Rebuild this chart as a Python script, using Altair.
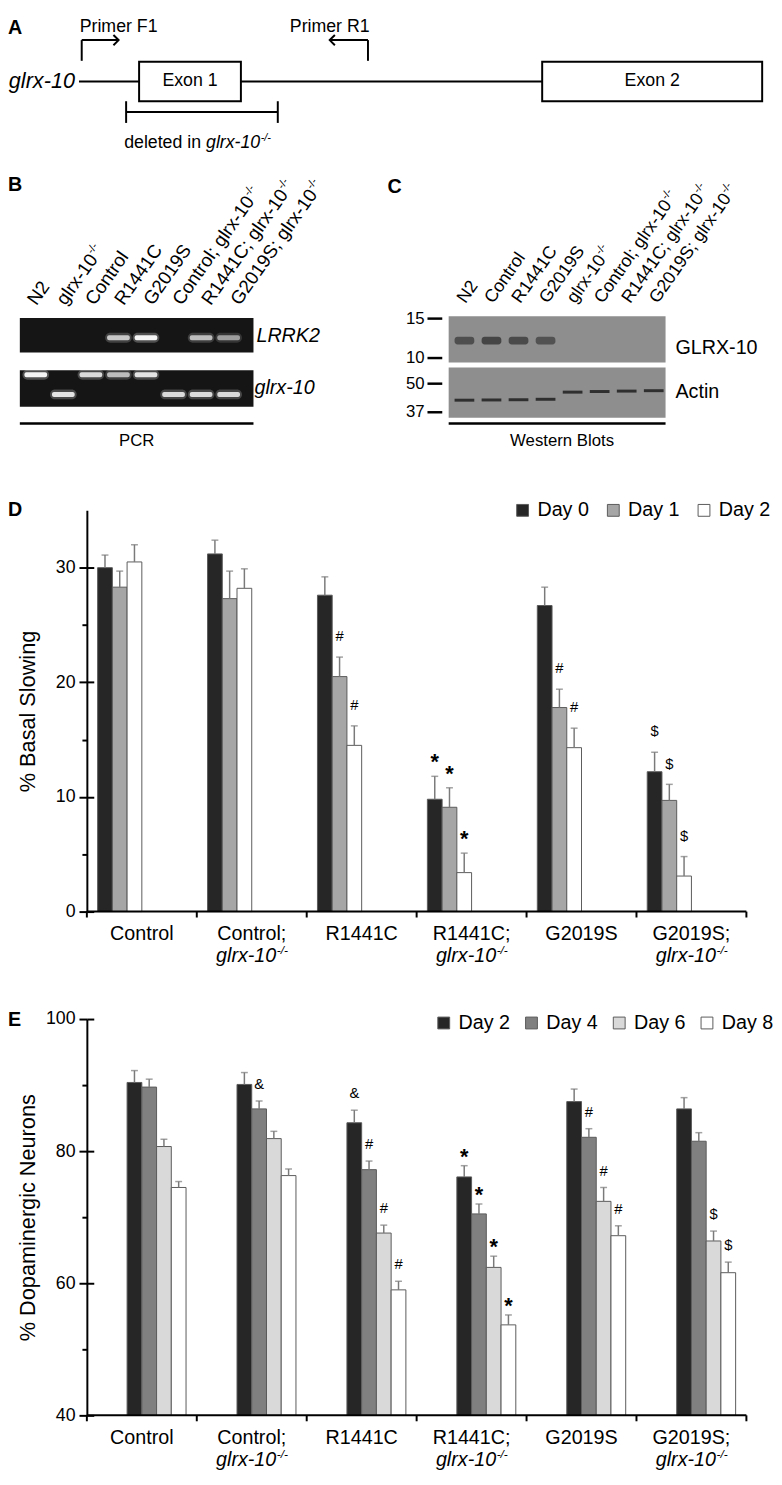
import math
import altair as alt
import pandas as pd

FONT = "Liberation Sans"

# ------------------------------------------------------------------ data
GENOTYPES = ["Control", "Control; glrx-10-/-", "R1441C", "R1441C; glrx-10-/-",
             "G2019S", "G2019S; glrx-10-/-"]

# D: % basal slowing
D_DAYS = ["Day 0", "Day 1", "Day 2"]
D_COLORS = ["#262626", "#a6a6a6", "#ffffff"]
D_MEAN = {
    "Day 0": [30.0, 31.2, 27.6, 9.8, 26.7, 12.2],
    "Day 1": [28.3, 27.3, 20.5, 9.1, 17.8, 9.7],
    "Day 2": [30.5, 28.2, 14.5, 3.4, 14.3, 3.1],
}
D_SEM = {
    "Day 0": [1.1, 1.2, 1.6, 2.0, 1.6, 1.7],
    "Day 1": [1.4, 2.4, 1.7, 1.7, 1.6, 1.4],
    "Day 2": [1.5, 1.7, 1.7, 1.7, 1.7, 1.7],
}
D_SIG = {
    "Day 0": ["", "", "", "*", "", "$"],
    "Day 1": ["", "", "#", "*", "#", "$"],
    "Day 2": ["", "", "#", "*", "#", "$"],
}

# E: % dopaminergic neurons
E_DAYS = ["Day 2", "Day 4", "Day 6", "Day 8"]
E_COLORS = ["#262626", "#808080", "#d9d9d9", "#ffffff"]
E_MEAN = {
    "Day 2": [90.4, 90.1, 84.3, 76.1, 87.5, 86.4],
    "Day 4": [89.7, 86.4, 77.2, 70.5, 82.1, 81.5],
    "Day 6": [80.7, 81.9, 67.6, 62.4, 72.4, 66.4],
    "Day 8": [74.5, 76.3, 59.0, 53.7, 67.2, 61.6],
}
E_SEM = {
    "Day 2": [1.8, 1.8, 1.9, 1.7, 1.9, 1.7],
    "Day 4": [1.2, 1.2, 1.3, 1.5, 1.3, 1.3],
    "Day 6": [1.1, 1.1, 1.2, 1.7, 2.1, 1.5],
    "Day 8": [0.9, 1.0, 1.3, 1.5, 1.5, 1.6],
}
E_SIG = {
    "Day 2": ["", "", "&", "*", "", ""],
    "Day 4": ["", "&", "#", "*", "#", ""],
    "Day 6": ["", "", "#", "*", "#", "$"],
    "Day 8": ["", "", "#", "*", "#", "$"],
}

# A: gene model (gene coordinate units)
GENE_SPAN = [0, 1000]
EXON_NAMES = ["Exon 1", "Exon 2"]
EXON_START = [88, 678]
EXON_END = [237, 1000]
PRIMER_NAMES = ["Primer F1", "Primer R1"]
PRIMER_SITE = [4, 423]
PRIMER_TIP = [58, 367]
PRIMER_DIR = ["forward", "reverse"]
DELETION = [69, 291]

# B: PCR gel (band intensity per lane, relative migration in gel)
B_LANES = ["N2", "glrx-10-/-", "Control", "R1441C", "G2019S",
           "Control; glrx-10-/-", "R1441C; glrx-10-/-", "G2019S; glrx-10-/-"]
B_LRRK2 = [0.0, 0.0, 0.0, 0.75, 1.0, 0.0, 0.7, 0.55]
B_GLRX_WT = [1.0, 0.0, 0.85, 0.7, 0.9, 0.0, 0.0, 0.0]
B_GLRX_DEL = [0.0, 0.9, 0.0, 0.0, 0.0, 0.85, 0.85, 0.85]
B_MIGRATION = {"LRRK2": 0.57, "glrx-10 wild type": 0.12, "glrx-10 deletion": 0.66}

# C: western blots
C_LANES = ["N2", "Control", "R1441C", "G2019S", "glrx-10-/-",
           "Control; glrx-10-/-", "R1441C; glrx-10-/-", "G2019S; glrx-10-/-"]
C_GLRX10 = [0.7, 0.8, 0.75, 0.65, 0.0, 0.0, 0.0, 0.0]
C_GLRX10_KDA = 11.9
C_ACTIN = [0.85, 0.85, 0.85, 0.85, 0.85, 0.85, 0.85, 0.85]
C_ACTIN_KDA = [41.8, 41.9, 42.0, 42.2, 45.5, 45.8, 46.0, 46.2]
C_GLRX_MARKERS = [15, 10]
C_ACTIN_MARKERS = [50, 37]

# ------------------------------------------------------------------ helpers
ADV = {' ': 278, ';': 278, '-': 333, '/': 278, 'C': 722, 'G': 778, 'N': 722,
       'R': 722, 'S': 667, 'o': 556, 'n': 556, 't': 278, 'r': 333, 'l': 222,
       'g': 556, 'x': 500, 'd': 556, 'e': 556, 'i': 222}


def tw(s, size):
    return sum(ADV.get(c, 556) for c in s) * size / 1000.0


def one_row():
    return pd.DataFrame({"k": [0]})


def box(x, x2, y, y2, **mark):
    return alt.Chart(one_row()).mark_rect(**mark).encode(
        x=alt.value(x), x2=alt.value(x2), y=alt.value(y), y2=alt.value(y2))


def label(text, x, y, **mark):
    return alt.Chart(one_row()).mark_text(**mark).encode(
        x=alt.value(x), y=alt.value(y), text=alt.value(text))


def hline(x, x2, y, **mark):
    return alt.Chart(one_row()).mark_rule(**mark).encode(
        x=alt.value(x), x2=alt.value(x2), y=alt.value(y))


def letter(t, x, y):
    return label(t, x, y, fontSize=20, fontWeight="bold", align="left",
                 baseline="alphabetic", font=FONT)


ANGLE = 305


def lane_labels(lanes, xrange, y, size):
    """Rotated lane captions, anchored on a point scale of their own."""
    scale = alt.Scale(type="point", domain=lanes, range=xrange, padding=0)
    df = pd.DataFrame({"lane": lanes})
    xenc = alt.X("lane:N", scale=scale, axis=None)
    out = [alt.Chart(df).transform_calculate(main="replace(datum.lane, '-/-', '')")
           .mark_text(fontSize=size, angle=ANGLE, align="left", baseline="alphabetic",
                      font=FONT)
           .encode(x=xenc, y=alt.value(y), text="main:N")]
    for lane in lanes:
        if lane.endswith("-/-"):
            w = tw(lane[:-3], size)
            out.append(alt.Chart(df).transform_filter(alt.datum.lane == lane)
                       .mark_text(fontSize=round(size * 0.6), angle=ANGLE, align="left",
                                  baseline="alphabetic", dx=w + 0.5,
                                  dy=-0.42 * size, font=FONT)
                       .encode(x=xenc, y=alt.value(y), text=alt.value("-/-")))
    return out


# ------------------------------------------------------------------ panel A
def panel_a():
    xa = alt.Scale(domain=GENE_SPAN, range=[72, 765])
    gene_df = pd.DataFrame({"start": [GENE_SPAN[0]], "end": [EXON_START[1]]})
    exon_df = pd.DataFrame({"exon": EXON_NAMES, "start": EXON_START, "end": EXON_END})
    primer_df = pd.DataFrame({"primer": PRIMER_NAMES, "site": PRIMER_SITE,
                              "tip": PRIMER_TIP, "dir": PRIMER_DIR})
    del_df = pd.DataFrame({"start": [DELETION[0]], "end": [DELETION[1]]})

    def X(f):
        return alt.X(f, type="quantitative", scale=xa, axis=None)

    layers = [
        alt.Chart(gene_df).mark_rule(color="black", strokeWidth=2).encode(
            x=X("start"), x2="end:Q", y=alt.value(64)),
        alt.Chart(exon_df).mark_rect(fill="white", stroke="black", strokeWidth=2).encode(
            x=X("start"), x2="end:Q", y=alt.value(44), y2=alt.value(84)),
        alt.Chart(exon_df).transform_calculate(mid="(datum.start + datum.end) / 2")
        .mark_text(fontSize=18, baseline="middle", font=FONT).encode(
            x=X("mid"), y=alt.value(64), text="exon:N"),
        alt.Chart(gene_df).mark_text(fontSize=22, fontStyle="italic", align="right",
                                     baseline="middle", dx=-4, font=FONT).encode(
            x=X("start"), y=alt.value(64), text=alt.value("glrx-10")),
        alt.Chart(primer_df).mark_rule(color="black", strokeWidth=2).encode(
            x=X("site"), y=alt.value(43), y2=alt.value(22)),
        alt.Chart(primer_df).mark_rule(color="black", strokeWidth=2).encode(
            x=X("site"), x2="tip:Q", y=alt.value(22)),
        alt.Chart(primer_df).mark_point(filled=False, color="black", strokeWidth=2,
                                        size=110, opacity=1).encode(
            x=X("tip"), y=alt.value(22),
            shape=alt.Shape("dir:N", scale=alt.Scale(
                domain=PRIMER_DIR, range=["M-1,-1L0,0L-1,1", "M1,-1L0,0L1,1"]),
                legend=None)),
        alt.Chart(primer_df).mark_text(fontSize=18, align="center", baseline="alphabetic",
                                       font=FONT).encode(
            x=X("tip"), y=alt.value(14), text="primer:N"),
        alt.Chart(del_df).mark_rule(color="black", strokeWidth=2).encode(
            x=X("start"), x2="end:Q", y=alt.value(95)),
        alt.Chart(del_df).transform_fold(["start", "end"], as_=["side", "pos"])
        .mark_rule(color="black", strokeWidth=2).encode(
            x=X("pos"), y=alt.value(84), y2=alt.value(106)),
    ]
    w1 = tw("deleted in ", 18)
    w2 = tw("glrx-10", 18)
    layers += [
        alt.Chart(del_df).mark_text(fontSize=18, align="left", baseline="alphabetic",
                                    dx=-2, font=FONT).encode(
            x=X("start"), y=alt.value(131), text=alt.value("deleted in")),
        alt.Chart(del_df).mark_text(fontSize=18, fontStyle="italic", align="left",
                                    baseline="alphabetic", dx=-2 + w1, font=FONT).encode(
            x=X("start"), y=alt.value(131), text=alt.value("glrx-10")),
        alt.Chart(del_df).mark_text(fontSize=11, fontStyle="italic", align="left",
                                    baseline="alphabetic", dx=-1.5 + w1 + w2, font=FONT).encode(
            x=X("start"), y=alt.value(124), text=alt.value("-/-")),
        letter("A", 0, 16),
    ]
    return alt.layer(*layers).properties(width=766, height=150)


# ------------------------------------------------------------------ panels B + C (one row)
def panel_bc():
    # ---- B: PCR gel
    xb = alt.Scale(domain=B_LANES, range=[16.3, 235.7], paddingInner=0.15, paddingOuter=0)
    rows = []
    for i, lane in enumerate(B_LANES):
        rows.append(dict(lane=lane, gel="LRRK2", migration=B_MIGRATION["LRRK2"],
                         intensity=B_LRRK2[i]))
        rows.append(dict(lane=lane, gel="glrx-10", migration=B_MIGRATION["glrx-10 wild type"],
                         intensity=B_GLRX_WT[i]))
        rows.append(dict(lane=lane, gel="glrx-10", migration=B_MIGRATION["glrx-10 deletion"],
                         intensity=B_GLRX_DEL[i]))
    df = pd.DataFrame(rows)
    layers = [letter("B", 0, 25),
              box(12, 249, 154, 189, fill="#151515"),
              box(12, 249, 207, 244, fill="#151515")]
    for gel, rng in (("LRRK2", [154, 189]), ("glrx-10", [207, 244])):
        ys = alt.Scale(domain=[0, 1], range=rng)
        base = (alt.Chart(df)
                .transform_filter(f"datum.gel === '{gel}' && datum.intensity > 0")
                .transform_calculate(glow="datum.intensity * 0.25"))
        enc = dict(x=alt.X("lane:N", scale=xb, axis=None),
                   y=alt.Y("migration:Q", scale=ys, axis=None))
        layers.append(base.mark_tick(color="white", thickness=10, size=27, cornerRadius=5)
                      .encode(opacity=alt.Opacity("glow:Q", scale=None), **enc))
        layers.append(base.mark_tick(color="#f4f4f4", thickness=5, size=23, cornerRadius=2)
                      .encode(opacity=alt.Opacity("intensity:Q", scale=None), **enc))
    layers += lane_labels(B_LANES, [29, 235], 142, 19)
    layers += [
        label("LRRK2", 252, 172, fontSize=20, fontStyle="italic", align="left",
              baseline="middle", font=FONT),
        label("glrx-10", 250, 225, fontSize=20, fontStyle="italic", align="left",
              baseline="middle", font=FONT),
        hline(12, 249, 261, color="black", strokeWidth=2.5),
        label("PCR", 130.5, 279, fontSize=17, align="center", baseline="middle", font=FONT),
    ]

    # ---- C: western blots (right half of the row)
    ox = 383
    xc = alt.Scale(domain=C_LANES, range=[69.7 + ox, 282.3 + ox], paddingInner=0.25,
                   paddingOuter=0)
    glrx_df = pd.DataFrame({"lane": C_LANES, "kda": [C_GLRX10_KDA] * len(C_LANES),
                            "signal": C_GLRX10})
    actin_df = pd.DataFrame({"lane": C_LANES, "kda": C_ACTIN_KDA, "signal": C_ACTIN})

    def mw_axis(vals):
        return alt.Axis(orient="left", offset=-(57 + ox), values=vals, tickSize=15,
                        tickWidth=2.5, tickColor="black", domain=False, labelFontSize=17,
                        labelPadding=3, labelExpr="datum.value + ''", title=None, grid=False)

    xenc = alt.X("lane:N", scale=xc, axis=None)
    layers += [
        letter("C", 2 + ox, 27),
        box(64 + ox, 284 + ox, 152, 199, fill="#8e8e8e"),
        box(64 + ox, 284 + ox, 204, 255, fill="#8e8e8e"),
        alt.Chart(glrx_df).mark_tick(color="#333333", thickness=8, size=20, cornerRadius=3)
        .encode(x=xenc,
                y=alt.Y("kda:Q", scale=alt.Scale(type="log", domain=[10, 15], range=[194, 154]),
                        axis=mw_axis(C_GLRX_MARKERS)),
                opacity=alt.Opacity("signal:Q", scale=None)),
        alt.Chart(actin_df).mark_tick(color="#1e1e1e", thickness=3, size=20)
        .encode(x=xenc,
                y=alt.Y("kda:Q", scale=alt.Scale(type="log", domain=[37, 50], range=[249, 220]),
                        axis=mw_axis(C_ACTIN_MARKERS)),
                opacity=alt.Opacity("signal:Q", scale=None)),
    ]
    layers += lane_labels(C_LANES, [464, 659], 140, 18)
    layers += [
        label("GLRX-10", 294 + ox, 184, fontSize=20, align="left", baseline="middle", font=FONT),
        label("Actin", 294 + ox, 229, fontSize=20, align="left", baseline="middle", font=FONT),
        hline(64 + ox, 284 + ox, 261, color="black", strokeWidth=2.5),
        label("Western Blots", 179 + ox, 279, fontSize=17, align="center", baseline="middle",
              font=FONT),
    ]
    return (alt.layer(*layers)
            .resolve_scale(x="independent", y="independent")
            .resolve_axis(x="independent", y="independent")
            .properties(width=766, height=290))


# ------------------------------------------------------------------ panels D / E
def bar_panel(let, let_y, days, colors, mean, sem, sig, ydom, yrange, yvals, major, title,
              row_h, legend_x, legend_y, legend_pad, pad_outer, dy_sym, dy_star):
    rows = []
    for d in days:
        for i, g in enumerate(GENOTYPES):
            rows.append({"genotype": g, "day": d, "mean": mean[d][i], "sem": sem[d][i],
                         "sig": sig[d][i]})
    df = pd.DataFrame(rows)
    base = alt.Chart(df).transform_calculate(top="datum.mean + datum.sem")

    xs = alt.Scale(domain=GENOTYPES, range=[80, 749], paddingInner=0, paddingOuter=0)
    xo = alt.Scale(domain=days, paddingInner=0, paddingOuter=pad_outer)
    ys = alt.Scale(domain=ydom, range=yrange, nice=False, zero=False)
    ax_y = yrange[0]

    y_axis = alt.Axis(orient="left", offset=-80, values=yvals,
                      labelExpr=f"datum.value % {major} === 0 ? datum.label : ''",
                      tickSize={"condition": {"test": f"datum.value % {major} === 0", "value": 8},
                                "value": 5},
                      tickWidth=2, domainWidth=2, labelFontSize=18, labelPadding=4,
                      labelOverlap=False, title=title, titleFontSize=22,
                      titleFontWeight="normal", titleX=-60,
                      titleY=(yrange[0] + yrange[1]) / 2, titleAngle=270,
                      titleBaseline="middle", zindex=1)
    y_cross = alt.Axis(orient="left", offset=-87, values=[v for v in yvals if v % major == 0],
                       tickSize=7, tickWidth=2, domain=False, labels=False, title=None,
                       zindex=1)
    legend = alt.Legend(orient="none", legendX=legend_x, legendY=legend_y,
                        direction="horizontal", title=None, symbolType="square",
                        symbolSize=144, symbolStrokeColor="#5a5a5a", symbolStrokeWidth=1,
                        labelFontSize=20, labelFont=FONT, labelColor="black", labelOffset=5,
                        columnPadding=legend_pad, padding=0)

    X0 = alt.X("genotype:N", scale=xs, axis=None)
    XO = alt.XOffset("day:N", scale=xo)

    bars = base.mark_bar(stroke="#5a5a5a", strokeWidth=1).encode(
        x=X0, xOffset=XO,
        y=alt.Y("mean:Q", scale=ys, axis=y_axis), y2=alt.datum(ydom[0]),
        color=alt.Color("day:N", scale=alt.Scale(domain=days, range=colors), legend=legend))
    errs = base.mark_rule(color="#7a7a7a", strokeWidth=1.5).encode(
        x=X0, xOffset=XO, y=alt.Y("mean:Q", scale=ys, axis=y_cross), y2="top:Q")
    caps = base.mark_tick(color="#7a7a7a", thickness=1.5, size=7).encode(
        x=X0, xOffset=XO, y=alt.Y("top:Q", scale=ys, axis=None))
    sym = base.transform_filter("datum.sig !== '' && datum.sig !== '*'").mark_text(
        fontSize=15, baseline="middle", dy=dy_sym, font=FONT).encode(
        x=X0, xOffset=XO, y=alt.Y("top:Q", scale=ys, axis=None), text="sig:N")
    star = base.transform_filter("datum.sig === '*'").mark_text(
        fontSize=22, fontWeight="bold", baseline="middle", dy=dy_star, font=FONT).encode(
        x=X0, xOffset=XO, y=alt.Y("top:Q", scale=ys, axis=None), text="sig:N")

    # category axis drawn with marks: baseline, boundary ticks, two-line labels
    geno_df = pd.DataFrame({"genotype": GENOTYPES})
    axis_line = hline(80, 749, ax_y, color="black", strokeWidth=2)
    ticks = alt.Chart(geno_df).mark_rule(color="black", strokeWidth=2).encode(
        x=alt.X("genotype:N", scale=xs, axis=None, bandPosition=0),
        y=alt.value(ax_y), y2=alt.value(ax_y + 6))
    end_tick = alt.Chart(one_row()).mark_rule(color="black", strokeWidth=2).encode(
        x=alt.value(749), y=alt.value(ax_y), y2=alt.value(ax_y + 6))
    line1 = alt.Chart(geno_df).transform_calculate(first="split(datum.genotype, ' ')[0]") \
        .mark_text(fontSize=20, align="center", baseline="alphabetic", font=FONT).encode(
        x=X0, y=alt.value(ax_y + 29), text="first:N")
    sub_df = pd.DataFrame({"genotype": [g for g in GENOTYPES if g.endswith("-/-")]})
    off = (tw("glrx-10", 20) - tw("-/-", 12)) / 2
    line2 = alt.Chart(sub_df).mark_text(fontSize=20, fontStyle="italic", align="right",
                                        baseline="alphabetic", dx=off, font=FONT).encode(
        x=X0, y=alt.value(ax_y + 51), text=alt.value("glrx-10"))
    sup2 = alt.Chart(sub_df).mark_text(fontSize=12, fontStyle="italic", align="left",
                                       baseline="alphabetic", dx=off + 0.5, font=FONT).encode(
        x=X0, y=alt.value(ax_y + 43), text=alt.value("-/-"))

    return (alt.layer(bars, errs, caps, sym, star, axis_line, ticks, end_tick, line1, line2,
                      sup2, letter(let, 0, let_y))
            .resolve_axis(y="independent")
            .properties(width=766, height=row_h))


panel_d = bar_panel("D", 65, D_DAYS, D_COLORS, D_MEAN, D_SEM, D_SIG, [0, 35], [466, 59],
                    [0, 5, 10, 15, 20, 25, 30], 10, "% Basal Slowing", 542,
                    512, 49, 14, 0.73, -21, -14)
panel_e = bar_panel("E", 40, E_DAYS, E_COLORS, E_MEAN, E_SEM, E_SIG, [40, 100], [435, 33],
                    [40, 50, 60, 70, 80, 90, 100], 20, "% Dopaminergic Neurons", 487,
                    432, 27, 11, 0.79, -17, -9)

chart = (alt.vconcat(panel_a(), panel_bc(), panel_d, panel_e, spacing=0, bounds="flush")
         .resolve_scale(color="independent", shape="independent")
         .properties(padding=0)
         .configure_view(stroke=None)
         .configure_axis(grid=False, domainColor="black", tickColor="black",
                         labelColor="black", titleColor="black", labelFont=FONT,
                         titleFont=FONT)
         .configure_text(font=FONT, color="black")
         .configure_legend(labelFont=FONT))

chart.save("out.html", embed_options={"renderer": "svg", "actions": False})
